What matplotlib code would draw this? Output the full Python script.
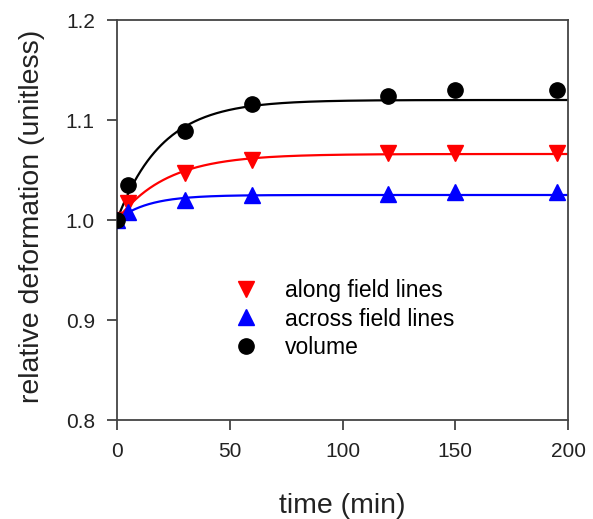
import numpy as np
import matplotlib
matplotlib.use("Agg")
import matplotlib.pyplot as plt

plt.rcParams["font.family"] = ["Liberation Sans", "DejaVu Sans"]

# measured points
time_min = [0, 5, 30, 60, 120, 150, 195]
along = [1.000, 1.017, 1.047, 1.060, 1.067, 1.067, 1.067]
across = [1.000, 1.008, 1.020, 1.025, 1.026, 1.028, 1.028]
volume = [1.000, 1.035, 1.089, 1.116, 1.124, 1.130, 1.130]

# fitted exponential rise: plateau amplitude and time constant (min)
fit_amplitude = {"along": 0.066, "across": 0.025, "volume": 0.120}
fit_tau = {"along": 22.0, "across": 14.0, "volume": 20.0}

x_ticks = [0, 50, 100, 150, 200]
y_ticks = [0.8, 0.9, 1.0, 1.1, 1.2]

fig = plt.figure(figsize=(5.93, 5.19), dpi=100)
ax = fig.add_axes([117 / 593, 1 - 420 / 519, 451 / 593, 400 / 519])

t_fit = np.linspace(0, 200, 400)


def rise(name):
    return 1 + fit_amplitude[name] * (1 - np.exp(-t_fit / fit_tau[name]))


ax.plot(t_fit, rise("volume"), color="black", lw=1.6, zorder=2)
ax.plot(t_fit, rise("along"), color="red", lw=1.6, zorder=2)
ax.plot(t_fit, rise("across"), color="blue", lw=1.6, zorder=2)

ax.plot(time_min, along, ls="none", marker="v", ms=11, color="red",
        label="along field lines", zorder=3)
ax.plot(time_min, across, ls="none", marker="^", ms=11, color="blue",
        label="across field lines", zorder=3)
ax.plot(time_min, volume, ls="none", marker="o", ms=11, color="black",
        label="volume", zorder=3)

ax.set_xlim(0, 200)
ax.set_ylim(0.8, 1.2)
ax.set_xticks(x_ticks)
ax.set_yticks(y_ticks)
ax.set_yticklabels([f"{v:.1f}" for v in y_ticks])
ax.tick_params(direction="out", length=7, width=1.2, labelsize=15, pad=9,
               color="#333333", labelcolor="#222222")
for spine in ax.spines.values():
    spine.set_linewidth(1.3)
    spine.set_color("#444444")

ax.set_xlabel("time (min)", fontsize=20.5, labelpad=23, color="#222222")
ax.set_ylabel("relative deformation (unitless)", fontsize=20.5, color="#222222")
ax.yaxis.set_label_coords(-0.16, 0.51)

ax.legend(loc="upper left", bbox_to_anchor=(0.22, 0.38), frameon=False,
          fontsize=16.5, handletextpad=0.9, labelspacing=0.22, borderpad=0,
          handlelength=1.6)

fig.savefig("out.png", dpi=100)
